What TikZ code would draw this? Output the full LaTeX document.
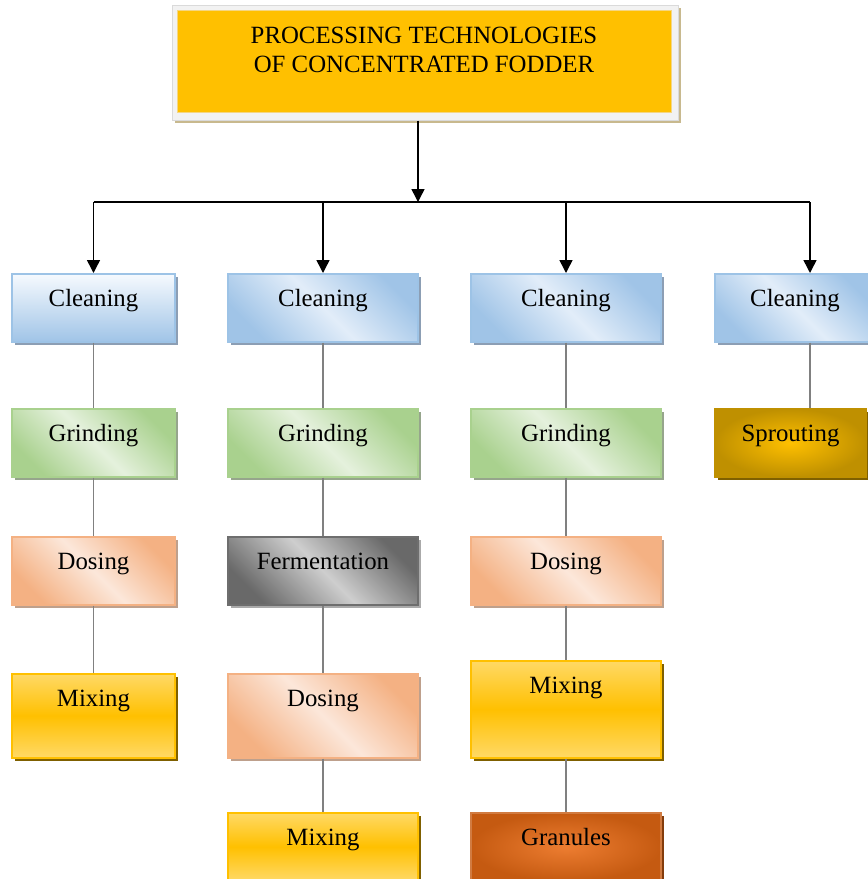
\documentclass[tikz,border=0pt]{standalone}
\usepackage{fontspec}
\setmainfont{Liberation Serif}
\usetikzlibrary{arrows.meta,shadows}
\definecolor{cleanlow}{RGB}{226,237,249}
\definecolor{cleanhigh}{RGB}{160,196,231}
\definecolor{cleantop}{RGB}{246,250,254}
\definecolor{cleanedge}{RGB}{157,195,230}
\definecolor{cleanshade}{RGB}{140,158,180}
\definecolor{grindlow}{RGB}{229,241,221}
\definecolor{grindhigh}{RGB}{169,209,142}
\definecolor{grindshade}{RGB}{150,165,140}
\definecolor{doselow}{RGB}{252,231,218}
\definecolor{dosehigh}{RGB}{244,177,131}
\definecolor{doseshade}{RGB}{190,160,140}
\definecolor{fermlow}{RGB}{206,206,206}
\definecolor{fermhigh}{RGB}{105,105,105}
\definecolor{fermedge}{RGB}{110,110,110}
\definecolor{fermshade}{RGB}{170,170,170}
\definecolor{mixlow}{RGB}{255,217,102}
\definecolor{mixhigh}{RGB}{255,192,0}
\definecolor{mixshade}{RGB}{127,96,0}
\definecolor{granlow}{RGB}{237,125,49}
\definecolor{granhigh}{RGB}{197,90,17}
\definecolor{granshade}{RGB}{132,60,12}
\definecolor{sproutlow}{RGB}{255,192,0}
\definecolor{sprouthigh}{RGB}{191,144,0}
\definecolor{titlefill}{RGB}{255,192,0}
\definecolor{titleedge}{RGB}{245,214,130}
\definecolor{titleframe}{RGB}{242,242,242}
\definecolor{titleshade}{RGB}{200,185,142}
\definecolor{linkgray}{RGB}{128,128,128}

\tikzset{
  boxshadow/.style={drop shadow={shadow xshift=3pt,shadow yshift=-3pt,fill=#1,opacity=1}},
  stage/.style={draw,line width=1.5pt,anchor=north,inner sep=0pt,
    text height=33pt,text depth=35pt,font=\fontsize{24.8}{29}\selectfont},
  diag/.style 2 args={top color=#1,bottom color=#1,middle color=#2,shading angle=-45},
  cleanbox/.style={stage,draw=cleanedge,diag={cleanhigh}{cleanlow},boxshadow=cleanshade},
  grindbox/.style={stage,draw=grindhigh,diag={grindhigh}{grindlow},boxshadow=grindshade},
  dosebox/.style={stage,draw=dosehigh,diag={dosehigh}{doselow},boxshadow=doseshade},
  fermbox/.style={stage,draw=fermedge,diag={fermhigh}{fermlow},boxshadow=fermshade},
  mixbox/.style={stage,draw=mixhigh,top color=mixlow,bottom color=mixlow,middle color=mixhigh,boxshadow=mixshade},
  granbox/.style={stage,draw=granhigh!80!white,inner color=granlow,outer color=granhigh,boxshadow=granshade},
  sproutbox/.style={stage,draw=sprouthigh,inner color=sproutlow,outer color=sprouthigh,boxshadow=mixshade},
  link/.style={draw=linkgray,line width=1.5pt},
  arr/.style={draw=black,line width=1.5pt,-{Triangle[width=13pt,length=13pt]}}
}

\begin{document}
\begin{tikzpicture}[x=1pt,y=-1pt]
  \useasboundingbox (0,0) rectangle (868,879);

  % title
  \node[anchor=north,minimum width=506pt,minimum height=115pt,inner sep=0pt,
    fill=titleframe,draw=titleframe!90!black,line width=0.5pt,boxshadow=titleshade] (frame) at (425,5) {};
  \node[anchor=north,minimum width=494pt,inner sep=0pt,fill=titlefill,draw=titleedge,
    text height=62pt,text depth=40pt,align=center,font=\fontsize{24.8}{29}\selectfont]
    (title) at (424,10) {PROCESSING TECHNOLOGIES\\OF CONCENTRATED FODDER};

  \coordinate (hub) at (418,202);
  \coordinate (hub1) at (93.5,202);
  \coordinate (hub2) at (323,202);
  \coordinate (hub3) at (566,202);
  \coordinate (hub4) at (810,202);

  % column 1
  \node[cleanbox,minimum width=163pt,top color=cleantop,bottom color=cleanhigh] (clean1) at (93.5,273) {Cleaning};
  \node[grindbox,minimum width=163pt] (grind1) at (93.5,408) {Grinding};
  \node[dosebox,minimum width=163pt] (dose1) at (93.5,536) {Dosing};
  \node[mixbox,minimum width=163pt,text depth=51pt] (mix1) at (93.5,673) {Mixing};

  % column 2
  \node[cleanbox,minimum width=190pt] (clean2) at (323,273) {Cleaning};
  \node[grindbox,minimum width=190pt] (grind2) at (323,408) {Grinding};
  \node[fermbox,minimum width=190pt] (ferm2) at (323,536) {Fermentation};
  \node[dosebox,minimum width=190pt,text depth=51pt] (dose2) at (323,673) {Dosing};
  \node[mixbox,minimum width=190pt] (mix2) at (323,812) {Mixing};

  % column 3
  \node[cleanbox,minimum width=190pt] (clean3) at (566,273) {Cleaning};
  \node[grindbox,minimum width=190pt] (grind3) at (566,408) {Grinding};
  \node[dosebox,minimum width=190pt] (dose3) at (566,536) {Dosing};
  \node[mixbox,minimum width=190pt,text depth=64pt] (mix3) at (566,660) {Mixing};
  \node[granbox,minimum width=190pt] (gran3) at (566,812) {Granules};

  % column 4
  \node[cleanbox,minimum width=160pt] (clean4) at (795,273) {Cleaning};
  \node[sproutbox,minimum width=151pt] (sprout4) at (790.5,408) {Sprouting};

  % arrows
  \draw[arr] (frame.south -| hub) -- (hub);
  \draw[line width=1.5pt] (hub1) -- (hub4);
  \draw[arr] (hub1) -- (clean1.north);
  \draw[arr] (hub2) -- (clean2.north);
  \draw[arr] (hub3) -- (clean3.north);
  \draw[arr] (hub4) -- (hub4 |- clean4.north);

  % links
  \draw[link] (clean1) -- (grind1);
  \draw[link] (grind1) -- (dose1);
  \draw[link] (dose1) -- (mix1);
  \draw[link] (clean2) -- (grind2);
  \draw[link] (grind2) -- (ferm2);
  \draw[link] (ferm2) -- (dose2);
  \draw[link] (dose2) -- (mix2);
  \draw[link] (clean3) -- (grind3);
  \draw[link] (grind3) -- (dose3);
  \draw[link] (dose3) -- (mix3);
  \draw[link] (mix3) -- (gran3);
  \draw[link] (clean4.south -| hub4) -- (sprout4.north -| hub4);
\end{tikzpicture}
\end{document}
